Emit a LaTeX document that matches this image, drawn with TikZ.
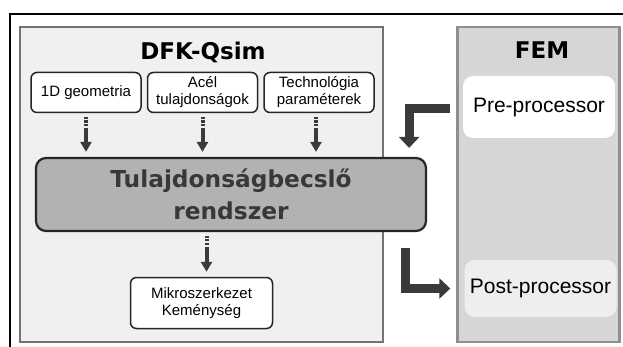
\documentclass[tikz,border=0pt]{standalone}
\usepackage{fontspec}
\setmainfont{Liberation Sans}
\newfontfamily\heavyfont{DejaVu Sans}
\usetikzlibrary{arrows.meta, positioning, calc}
\definecolor{panelgray}{RGB}{240, 240, 240}
\definecolor{femgray}{RGB}{214, 214, 214}
\definecolor{edgegray}{RGB}{115, 115, 115}
\definecolor{coregray}{RGB}{178, 178, 178}
\definecolor{arrowgray}{RGB}{58, 58, 58}
\definecolor{postgray}{RGB}{238, 238, 238}

\begin{document}
\begin{tikzpicture}[x=1pt, y=-1pt,
    panel/.style={rectangle, draw=edgegray, line width=2.5pt, minimum height=315pt, inner sep=0pt},
    heading/.style={font=\heavyfont\bfseries\fontsize{23}{26}\selectfont},
    inbox/.style={rectangle, rounded corners=6pt, draw=black!85, line width=1.5pt, fill=white, minimum width=110pt, minimum height=40pt, inner sep=1pt, align=center, font=\fontsize{15}{17}\selectfont},
    corebox/.style={rectangle, rounded corners=10pt, draw=black!85, line width=2.2pt, fill=coregray, minimum width=390pt, minimum height=73pt, align=center, text=black!78, font=\heavyfont\bfseries\fontsize{23.3}{32}\selectfont},
    fembox/.style={rectangle, rounded corners=10pt, minimum width=152pt, align=center, font=\fontsize{21}{24}\selectfont},
    dnarrow/.style={-{Triangle[width=11pt, length=10pt]}, line width=4pt, draw=arrowgray, dash pattern=on 2pt off 1.3pt on 2.5pt off 1.3pt on 2.5pt off 1.3pt on 60pt off 0pt, shorten <=3.5pt, shorten >=5pt},
    bigarrow/.style={-{Triangle[width=20pt, length=11pt]}, line width=9pt, draw=arrowgray, line join=miter}
]
\useasboundingbox (0,0) rectangle (623,347);
\draw[line width=1.2pt] (10,347) -- (10,14) -- (623,14);

% --- DFK-Qsim panel ---
\node[panel, fill=panelgray, minimum width=363pt] (dfk) at (201.5,184.5) {};
\node[heading] (dfktitle) at (203,52) {DFK-Qsim};

\node[inbox] (geo) at (86,92.5) {1D geometria};
\node[inbox, right=5pt of geo] (acel) {Acél\\tulajdonságok};
\node[inbox, right=5pt of acel] (tech) {Technológia\\paraméterek};

\node[corebox] (core) at (231,194.5) {Tulajdonságbecslő\\rendszer};
\node[inbox, minimum width=142pt, minimum height=51pt] (mikro) at (201.5,303) {Mikroszerkezet\\Keménység};

\draw[dnarrow] (geo.south) -- (geo.south |- core.north);
\draw[dnarrow] (acel.south) -- (acel.south |- core.north);
\draw[dnarrow] ([xshift=-3pt]tech.south) -- ([xshift=-3pt]tech.south |- core.north);
\draw[dnarrow] ([xshift=5pt]core.south -| mikro.north) -- ([xshift=5pt]mikro.north);

% --- FEM panel ---
\node[panel, fill=femgray, draw=edgegray!80, minimum width=162pt] (fem) at (538.5,184.5) {};
\node[heading] (femtitle) at (542,50) {FEM};
\node[fembox, fill=white, minimum height=62pt] (pre) at (539,107) {Pre-processor};
\node[fembox, fill=postgray, minimum height=57pt] (post) at (540.5,288.5) {Post-processor};

\coordinate (corein) at ($(core.north east)+(-18,0)$);
\coordinate (coreout) at ($(core.south east)+(-22,0)$);
\draw[bigarrow, shorten <=13pt, shorten >=9pt] ([yshift=-2pt]pre.west) -| (corein);
\draw[bigarrow, shorten <=16pt, shorten >=14pt] (coreout) |- (post.west);
\end{tikzpicture}
\end{document}
